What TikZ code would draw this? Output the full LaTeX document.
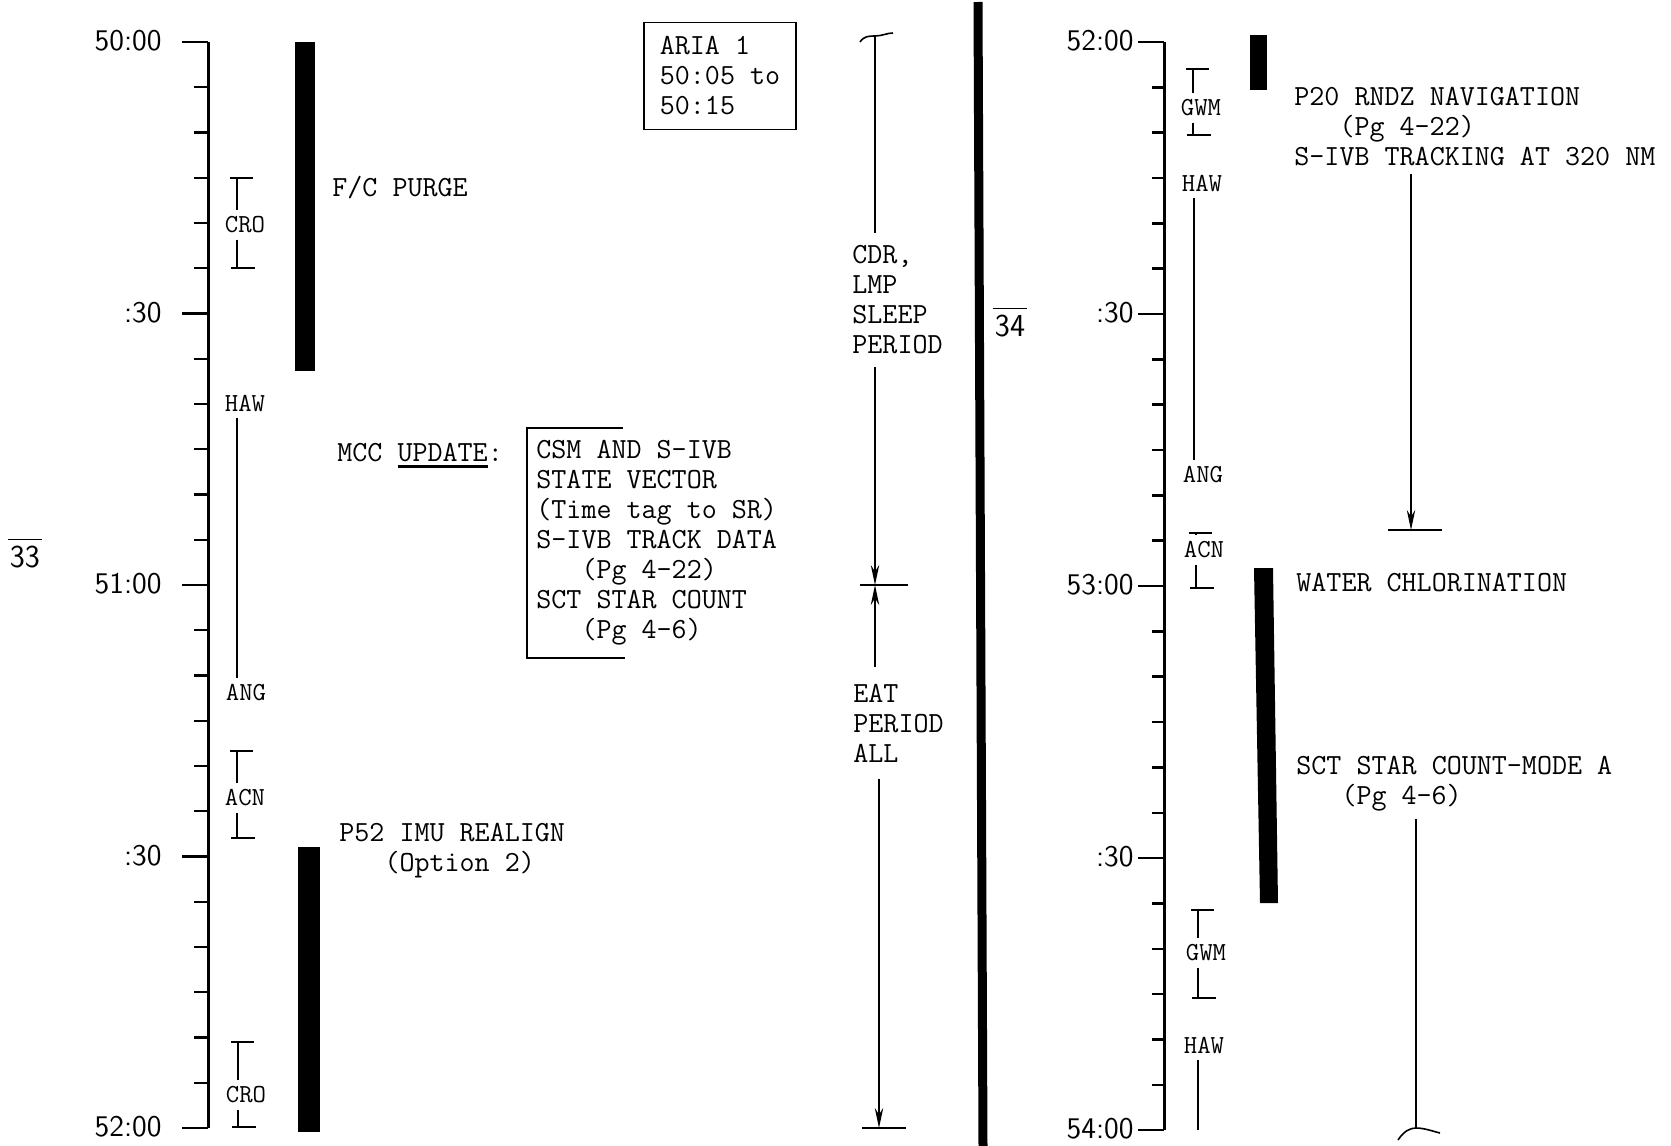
\documentclass[tikz,border=0pt]{standalone}
\usepackage{fontspec}
\usepackage{tikz}
\usetikzlibrary{arrows.meta,positioning,calc}
\newcommand{\ulbox}[1]{\vtop{\hbox{#1}\kern2pt\hrule height 1.2pt}}

\begin{document}
\begin{tikzpicture}[
  x=0.5pt,y=-0.5pt,
  txt/.style={font=\ttfamily\fontsize{14.6}{15}\selectfont,align=left,inner sep=0pt},
  stn/.style={font=\ttfamily\fontsize{13}{13}\selectfont,inner xsep=0pt,inner ysep=3pt},
  hour/.style={font=\sffamily\fontsize{15}{15}\selectfont,inner sep=0pt,anchor=base east},
  pgno/.style={font=\sffamily\fontsize{16}{16}\selectfont,inner sep=0pt},
  axisln/.style={line width=1.5pt},
  tickln/.style={line width=1.2pt},
  brk/.style={line width=0.6pt},
  endbar/.style={line width=1pt},
  flow/.style={line width=0.8pt},
  >={Stealth[length=10pt,width=4.2pt]}
]
\useasboundingbox (0,0) rectangle (1671,1146);
\fill[white] (0,0) rectangle (1671,1146);

% left time axis 50:00 - 52:00
\coordinate (lTop) at (208,42);
\coordinate (lBot) at (208,1128);
\draw[axisln] (lTop) -- (lBot);
\foreach \m in {5,10,...,115}
  \draw[tickln] (208,{42+\m*9.05}) -- ++(-14,0);
\foreach \m/\lbl in {0/50:00,30/:30,60/51:00,90/:30,120/52:00}{
  \draw[tickln] (208,{42+\m*9.05}) -- ++(-26,0);
  \node[hour] (lh\m) at (162,{50.5+\m*9.05}) {\lbl};
}

% right time axis 52:00 - 54:00
\coordinate (rTop) at (1164,42);
\coordinate (rBot) at (1164,1130);
\draw[axisln] (rTop) -- (rBot);
\foreach \m in {5,10,...,115}
  \draw[tickln] (1164,{42+\m*9.067}) -- ++(-12,0);
\foreach \m/\lbl in {0/52:00,30/:30,60/53:00,90/:30,120/54:00}{
  \draw[tickln] (1164,{42+\m*9.067}) -- ++(-26,0);
  \node[hour] (rh\m) at (1134,{50.5+\m*9.067}) {\lbl};
}

% divider
\draw[line width=4.5pt] (978,2) -- (983,1146);

% page numbers
\node[pgno] (pg33) at (25,557) {33};
\draw[brk] ([xshift=-1pt,yshift=3pt]pg33.north west) -- ([xshift=1pt,yshift=3pt]pg33.north east);
\node[pgno] (pg34) at (1010,326) {34};
\draw[brk] ([xshift=-1pt,yshift=3pt]pg34.north west) -- ([xshift=1pt,yshift=3pt]pg34.north east);

% station brackets
\foreach \n/\lbl/\x/\ya/\ym/\yb in {croA/CRO/237/178/225/268,acnA/ACN/237/751/798/838,
    croB/CRO/238/1042/1095/1127,gwmA/GWM/1193/69/108/135,acnB/ACN/1196/533/550/588,
    gwmB/GWM/1198/910/953/998}{
  \node[stn] (\n) at (\x+8,\ym) {\lbl};
  \coordinate (top\n) at (\x,\ya);
  \coordinate (bot\n) at (\x,\yb);
  \draw[brk] (top\n) -- (top\n |- \n.north);
  \draw[brk] (bot\n |- \n.south) -- (bot\n);
  \draw[endbar] (\x-7,\ya) -- (\x+16,\ya);
  \draw[endbar] (\x-6,\yb) -- (\x+18,\yb);
}
\node[stn] (hawA) at (245,403) {HAW};
\node[stn] (angA) at (246,693) {ANG};
\coordinate (hawAx) at (237,0);
\draw[brk] (hawA.south -| hawAx) -- (angA.north -| hawAx);
\node[stn] (hawB) at (1202,183) {HAW};
\node[stn] (angB) at (1203,475) {ANG};
\coordinate (hawBx) at (1194,0);
\draw[brk] (hawB.south -| hawBx) -- (angB.north -| hawBx);
\node[stn] (hawC) at (1204,1045) {HAW};
\coordinate (hawCend) at (1198,1130);
\draw[brk] (hawC.south -| hawCend) -- (hawCend);

% activity bars
\fill (295,42) rectangle (315,371);
\fill (298,847) rectangle (320,1132);
\fill (1250,35) rectangle (1267,90);
\fill (1254,568) -- (1273,568) -- (1278,903) -- (1260,903) -- cycle;

% left column texts
\node[txt,anchor=base west] (purge) at (332,196) {F/C PURGE};
\node[txt,anchor=base west] (mcc) at (337,461) {MCC \ulbox{UPDATE}:};
\node[txt,anchor=west,inner xsep=4.5pt,inner ysep=6pt] (upd) at (527,543)
  {CSM AND S-IVB\\STATE VECTOR\\(Time tag to SR)\\S-IVB TRACK DATA\\
   \phantom{XXX}(Pg 4-22)\\SCT STAR COUNT\\\phantom{XXX}(Pg 4-6)};
\draw[endbar] ([xshift=48pt]upd.north west) -- (upd.north west) -- (upd.south west) -- ([xshift=49pt]upd.south west);
\node[txt,anchor=west] (p52) at (339,851) {P52 IMU REALIGN\\\phantom{XXX}(Option 2)};
\node[txt,draw,line width=0.9pt,minimum width=76pt,minimum height=53.5pt] (aria) at (720,76)
  {ARIA 1\\50:05 to\\50:15};

% crew periods
\node[txt,anchor=west,inner ysep=6pt] (sleep) at (852,300) {CDR,\\LMP\\SLEEP\\PERIOD};
\node[txt,anchor=west,inner ysep=8pt] (eat) at (853,723) {EAT\\PERIOD\\ALL};
\coordinate (slpTop) at (875,36);
\coordinate (meet) at (875,585);
\coordinate (eatBot) at (879,1128);
\draw[flow] (860,42) .. controls (864,36) and (869,36) .. (slpTop) .. controls (882,36) and (887,33) .. (893,33);
\draw[flow] (slpTop) -- (slpTop |- sleep.north);
\draw[flow,->] (meet |- sleep.south) -- (meet);
\draw[flow,->] (meet |- eat.north) -- (meet);
\draw[endbar] ([xshift=-7.5pt]meet) -- ([xshift=16.5pt]meet);
\draw[flow,->] (eatBot |- eat.south) -- (eatBot);
\draw[endbar] ([xshift=-8.5pt]eatBot) -- ([xshift=13.5pt]eatBot);

% right column texts
\node[txt,anchor=west,inner ysep=3.5pt] (p20) at (1294,127)
  {P20 RNDZ NAVIGATION\\\phantom{XXX}(Pg 4-22)\\S-IVB TRACKING AT 320 NM};
\coordinate (trkEnd) at (1411,530);
\draw[flow,->] (trkEnd |- p20.south) -- (trkEnd);
\draw[endbar] ([xshift=-11.5pt]trkEnd) -- ([xshift=15.5pt]trkEnd);
\node[txt,anchor=base west] (water) at (1296,591) {WATER CHLORINATION};
\node[txt,anchor=west,inner ysep=3.5pt] (sct) at (1296,784) {SCT STAR COUNT-MODE A\\\phantom{XXX}(Pg 4-6)};
\coordinate (sctEnd) at (1416,1128);
\draw[flow] (sctEnd |- sct.south) -- (sctEnd);
\draw[flow] (1398,1140) .. controls (1404,1131) and (1410,1128) .. (sctEnd) .. controls (1424,1128) and (1432,1131) .. (1440,1133);
\end{tikzpicture}
\end{document}
